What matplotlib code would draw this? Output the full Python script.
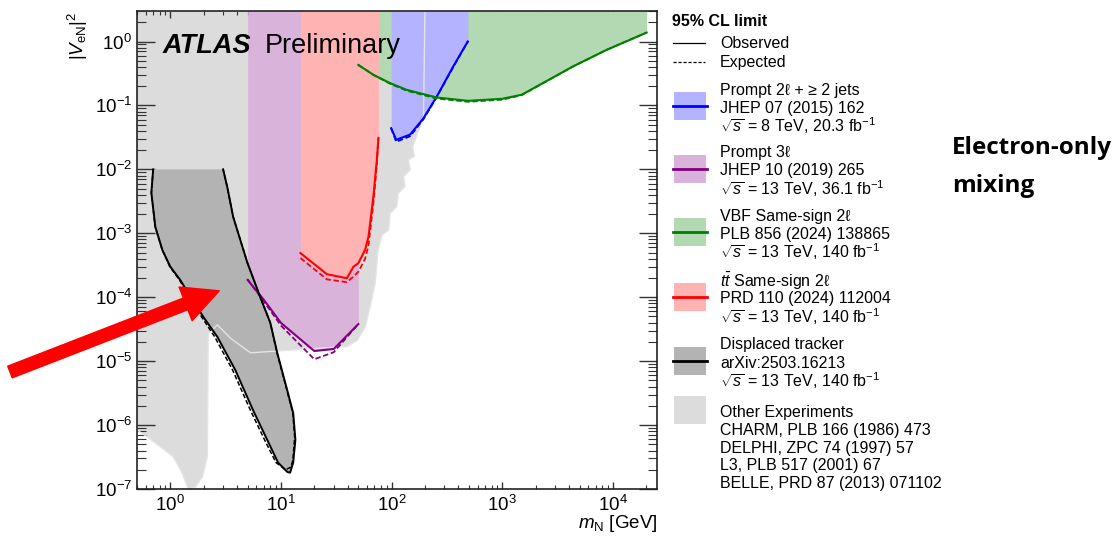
import matplotlib
matplotlib.use("Agg")
import matplotlib.pyplot as plt
from matplotlib.patches import Rectangle
from matplotlib.lines import Line2D
from matplotlib.ticker import LogLocator, NullFormatter

plt.rcParams['font.family'] = ['Liberation Sans', 'DejaVu Sans']
plt.rcParams['mathtext.fontset'] = 'custom'
plt.rcParams['mathtext.rm'] = 'Liberation Sans'
plt.rcParams['mathtext.it'] = 'Liberation Sans:italic'
plt.rcParams['mathtext.bf'] = 'Liberation Sans:bold'

# heavy neutral lepton mass [GeV] vs |V_eN|^2 at 95% CL
jets_m = [99, 110, 147, 194, 256, 361, 488]
jets_obs = [0.044, 0.029, 0.035, 0.063, 0.138, 0.41, 1.0]
jets_exp = [0.044, 0.027, 0.033, 0.061, 0.136, 0.40, 1.0]

trilep_m = [5, 7, 10, 20, 30, 50]
trilep_obs = [1.86e-4, 9.1e-5, 3.96e-5, 1.44e-5, 1.55e-5, 3.8e-5]
trilep_exp = [1.9e-4, 8.6e-5, 3.6e-5, 1.07e-5, 1.38e-5, 3.8e-5]

vbf_m = [50, 68.6, 97, 137, 256, 491, 1000, 1500, 4385, 8770, 20150]
vbf_obs = [0.43, 0.30, 0.223, 0.175, 0.133, 0.118, 0.127, 0.147, 0.41, 0.74, 1.38]
vbf_exp = [0.43, 0.30, 0.218, 0.170, 0.128, 0.114, 0.123, 0.145, 0.41, 0.74, 1.38]

ttbar_m = [15, 26, 39.4, 45.2, 50, 57.6, 61.8, 68.5, 73.5, 76]
ttbar_obs = [4.9e-4, 2.29e-4, 1.98e-4, 3.0e-4, 3.4e-4, 5.5e-4, 8.9e-4, 3.8e-3, 1.4e-2, 3.1e-2]
ttbar_exp = [4.1e-4, 1.9e-4, 1.72e-4, 2.1e-4, 2.5e-4, 4.0e-4, 6.5e-4, 3.0e-3, 1.2e-2, 3.1e-2]

# displaced tracker: closed contour, left edge down to the tip then right edge back up
disp_obs_m = [0.70, 0.674, 0.732, 0.847, 1.0, 1.23, 1.45, 1.99, 2.66, 3.86, 5.6, 7.5, 9.4,
              11.4, 12.1, 12.9, 13.5, 12.9, 11.4, 9.25, 8.0, 6.5, 4.96, 3.7, 3.27, 3.0]
disp_obs_v = [1e-2, 4.3e-3, 1.26e-3, 5.5e-4, 3.0e-4, 1.86e-4, 1.17e-4, 4.9e-5, 2.4e-5, 7.3e-6,
              1.7e-6, 5.9e-7, 2.6e-7, 1.85e-7, 1.8e-7, 2.6e-7, 5.9e-7, 1.54e-6, 3.5e-6, 1.35e-5,
              4.0e-5, 1.0e-4, 3.5e-4, 1.8e-3, 5.3e-3, 1e-2]
disp_exp_m = [0.70, 0.674, 0.73, 0.845, 0.99, 1.21, 1.42, 1.92, 2.52, 3.65, 5.3, 7.1, 9.0,
              11.0, 12.3, 12.8, 13.3, 12.8, 11.3, 9.2, 8.0, 6.5, 4.96, 3.7, 3.27, 3.0]
disp_exp_v = [1e-2, 4.3e-3, 1.26e-3, 5.5e-4, 3.0e-4, 1.86e-4, 1.17e-4, 4.9e-5, 2.4e-5, 7.3e-6,
              1.7e-6, 5.9e-7, 2.6e-7, 2.0e-7, 2.2e-7, 2.8e-7, 6.5e-7, 1.54e-6, 3.5e-6, 1.35e-5,
              4.0e-5, 1.0e-4, 3.5e-4, 1.8e-3, 5.3e-3, 1e-2]

# CHARM / DELPHI / L3 / BELLE excluded area
other_m = [0.5, 200, 194, 181, 155, 160, 142, 147, 128, 132, 115, 111, 97, 94, 82, 75.5, 71, 65,
           57.7, 48.8, 39.6, 5.3, 3.48, 2.66, 2.2, 2.16, 1.95, 1.68, 1.45, 1.28, 1.06, 0.81,
           0.62, 0.5]
other_v = [3, 3, 0.063, 0.047, 0.0228, 0.0159, 0.0141, 0.0098, 0.0077, 0.0054, 0.00424,
           0.00262, 0.00206, 0.00113, 9.4e-4, 5.5e-4, 1.66e-4, 8.1e-5, 3.4e-5, 2.1e-5, 1.7e-5,
           1.35e-5, 2.3e-5, 3.7e-5, 2.7e-5, 3.2e-7, 1.55e-7, 1.07e-7, 1e-7, 1.78e-7, 3.2e-7,
           4.6e-7, 6.5e-7, 8.4e-7]

XMIN, XMAX = 0.5, 2.5e4
YMIN, YMAX = 1e-7, 3

W, H = 1120, 536
fig = plt.figure(figsize=(W / 100, H / 100), dpi=100)
ax = fig.add_axes([137 / W, 47 / H, 520 / W, 478 / H])
ax.set_xscale('log')
ax.set_yscale('log')
ax.set_xlim(XMIN, XMAX)
ax.set_ylim(YMIN, YMAX)

ax.fill(other_m, other_v, color='#dcdcdc', lw=0, zorder=1)
ax.fill_between(vbf_m, vbf_obs, YMAX, color='#b3d9b3', lw=0, zorder=2)
ax.fill_between(trilep_m, trilep_obs, YMAX, color='#d9b3d9', lw=0, zorder=2)
ax.fill_between(ttbar_m, ttbar_obs, YMAX, color='#ffb3b3', lw=0, zorder=3)
ax.fill_between(jets_m, jets_obs, YMAX, color='#b3b3ff', lw=0, zorder=3)
ax.fill(disp_obs_m, disp_obs_v, color='#b3b3b3', lw=0, zorder=4)
ax.plot(other_m, other_v, color='#e4e4e4', lw=1, zorder=4.5)

for m, obs, exp, c in [(jets_m, jets_obs, jets_exp, '#0000ff'),
                       (trilep_m, trilep_obs, trilep_exp, '#800080'),
                       (vbf_m, vbf_obs, vbf_exp, '#008000'),
                       (ttbar_m, ttbar_obs, ttbar_exp, '#ff0000')]:
    ax.plot(m, obs, color=c, lw=1.5, zorder=6)
    ax.plot(m, exp, color=c, lw=1.3, ls=(0, (3, 1.5)), zorder=6)
ax.plot(disp_exp_m, disp_exp_v, color='black', lw=1.1, ls=(0, (3, 1.5)), zorder=6)
ax.plot(disp_obs_m, disp_obs_v, color='black', lw=1.4, zorder=6)

# axes styling
for s in ax.spines.values():
    s.set_linewidth(1.2)
    s.set_color('#222222')
    s.set_zorder(8)
ax.xaxis.set_minor_locator(LogLocator(base=10, subs=range(2, 10), numticks=20))
ax.yaxis.set_minor_locator(LogLocator(base=10, subs=range(2, 10), numticks=20))
ax.xaxis.set_minor_formatter(NullFormatter())
ax.yaxis.set_minor_formatter(NullFormatter())
ax.set_yticks([10.0 ** k for k in range(-7, 1)])
ax.set_xticks([10.0 ** k for k in range(0, 5)])
ax.tick_params(which='both', direction='in', top=True, right=True, color='#333333',
               labelsize=13.5)
ax.tick_params(axis='y', which='major', length=13, width=1.0, pad=3.5)
ax.tick_params(axis='y', which='minor', length=6.5, width=0.8)
ax.tick_params(axis='x', which='major', length=5, width=1.0, pad=4)
ax.tick_params(axis='x', which='minor', length=3, width=0.8)

fig.text(78 / W, 1 - 12 / H, r'$|V_{\mathrm{eN}}|^{2}$', rotation=90, ha='center',
         va='top', fontsize=13.5)
fig.text(657 / W, 1 - 523 / H, r'$m_{\mathrm{N}}$ [GeV]', ha='right', va='center',
         fontsize=13.5)

ax.text(0.05, 0.912, 'ATLAS', transform=ax.transAxes, fontsize=19.5, fontweight='bold',
        fontstyle='italic', va='baseline', zorder=9)
ax.text(0.246, 0.912, 'Preliminary', transform=ax.transAxes, fontsize=19.5,
        va='baseline', zorder=9)

# arrow pointing at the displaced-tracker contour
ax.annotate('', xy=(2.77, 1.26e-4), xycoords='data', xytext=(10 / W, 1 - 372 / H),
            textcoords='figure fraction', annotation_clip=False,
            arrowprops=dict(arrowstyle='simple,head_length=2.6,head_width=2.6,tail_width=0.9',
                            mutation_scale=10, color='#ff0000', shrinkA=0, shrinkB=0),
            zorder=10)

# legend, drawn by hand in figure pixels
def fx(px):
    return px / W


def fy(py):
    return 1 - py / H


leg_fs = 11.5
tx = 720
fig.text(fx(672), fy(22), '95% CL limit', fontsize=leg_fs, fontweight='bold', va='center')
fig.add_artist(Line2D([fx(673), fx(705)], [fy(43), fy(43)], color='black', lw=0.9))
fig.add_artist(Line2D([fx(673), fx(705)], [fy(62), fy(62)], color='black', lw=0.9,
                      ls=(0, (2.5, 1.5))))
fig.text(fx(tx), fy(43), 'Observed', fontsize=leg_fs, va='center')
fig.text(fx(tx), fy(62), 'Expected', fontsize=leg_fs, va='center')

entries = [
    ('#b3b3ff', '#0000ff', 92, ['Prompt 2ℓ + ≥ 2 jets', 'JHEP 07 (2015) 162',
                                r'$\sqrt{s}$ = 8 TeV, 20.3 fb$^{-1}$']),
    ('#d9b3d9', '#800080', 155, ['Prompt 3ℓ', 'JHEP 10 (2019) 265',
                                 r'$\sqrt{s}$ = 13 TeV, 36.1 fb$^{-1}$']),
    ('#b3d9b3', '#008000', 218, ['VBF Same-sign 2ℓ', 'PLB 856 (2024) 138865',
                                 r'$\sqrt{s}$ = 13 TeV, 140 fb$^{-1}$']),
    ('#ffb3b3', '#ff0000', 283, [r'$t\bar{t}$ Same-sign 2ℓ', 'PRD 110 (2024) 112004',
                                 r'$\sqrt{s}$ = 13 TeV, 140 fb$^{-1}$']),
    ('#b3b3b3', '#000000', 347, ['Displaced tracker', 'arXiv:2503.16213',
                                 r'$\sqrt{s}$ = 13 TeV, 140 fb$^{-1}$']),
]
for fill_c, line_c, top, lines in entries:
    fig.add_artist(Rectangle((fx(674), fy(top + 28)), 32 / W, 28 / H, color=fill_c, lw=0))
    fig.add_artist(Line2D([fx(673), fx(707)], [fy(top + 14), fy(top + 14)], color=line_c,
                          lw=2.0))
    for i, t in enumerate(lines):
        fig.text(fx(tx), fy(top - 2 + 18 * i), t, fontsize=leg_fs, va='center')

fig.add_artist(Rectangle((fx(674), fy(424)), 32 / W, 28 / H, color='#dcdcdc', lw=0))
other_lines = ['Other Experiments', 'CHARM, PLB 166 (1986) 473', 'DELPHI, ZPC 74 (1997) 57',
               'L3, PLB 517 (2001) 67', 'BELLE, PRD 87 (2013) 071102']
for i, t in enumerate(other_lines):
    fig.text(fx(tx), fy(413 + 17.6 * i), t, fontsize=leg_fs, va='center')

fig.text(fx(952), fy(148), 'Electron-only', fontsize=17.5, fontweight='bold',
         family=['Open Sans', 'DejaVu Sans'], va='center')
fig.text(fx(952), fy(186), 'mixing', fontsize=17.5, fontweight='bold',
         family=['Open Sans', 'DejaVu Sans'], va='center')

fig.savefig('out.png', dpi=100)
